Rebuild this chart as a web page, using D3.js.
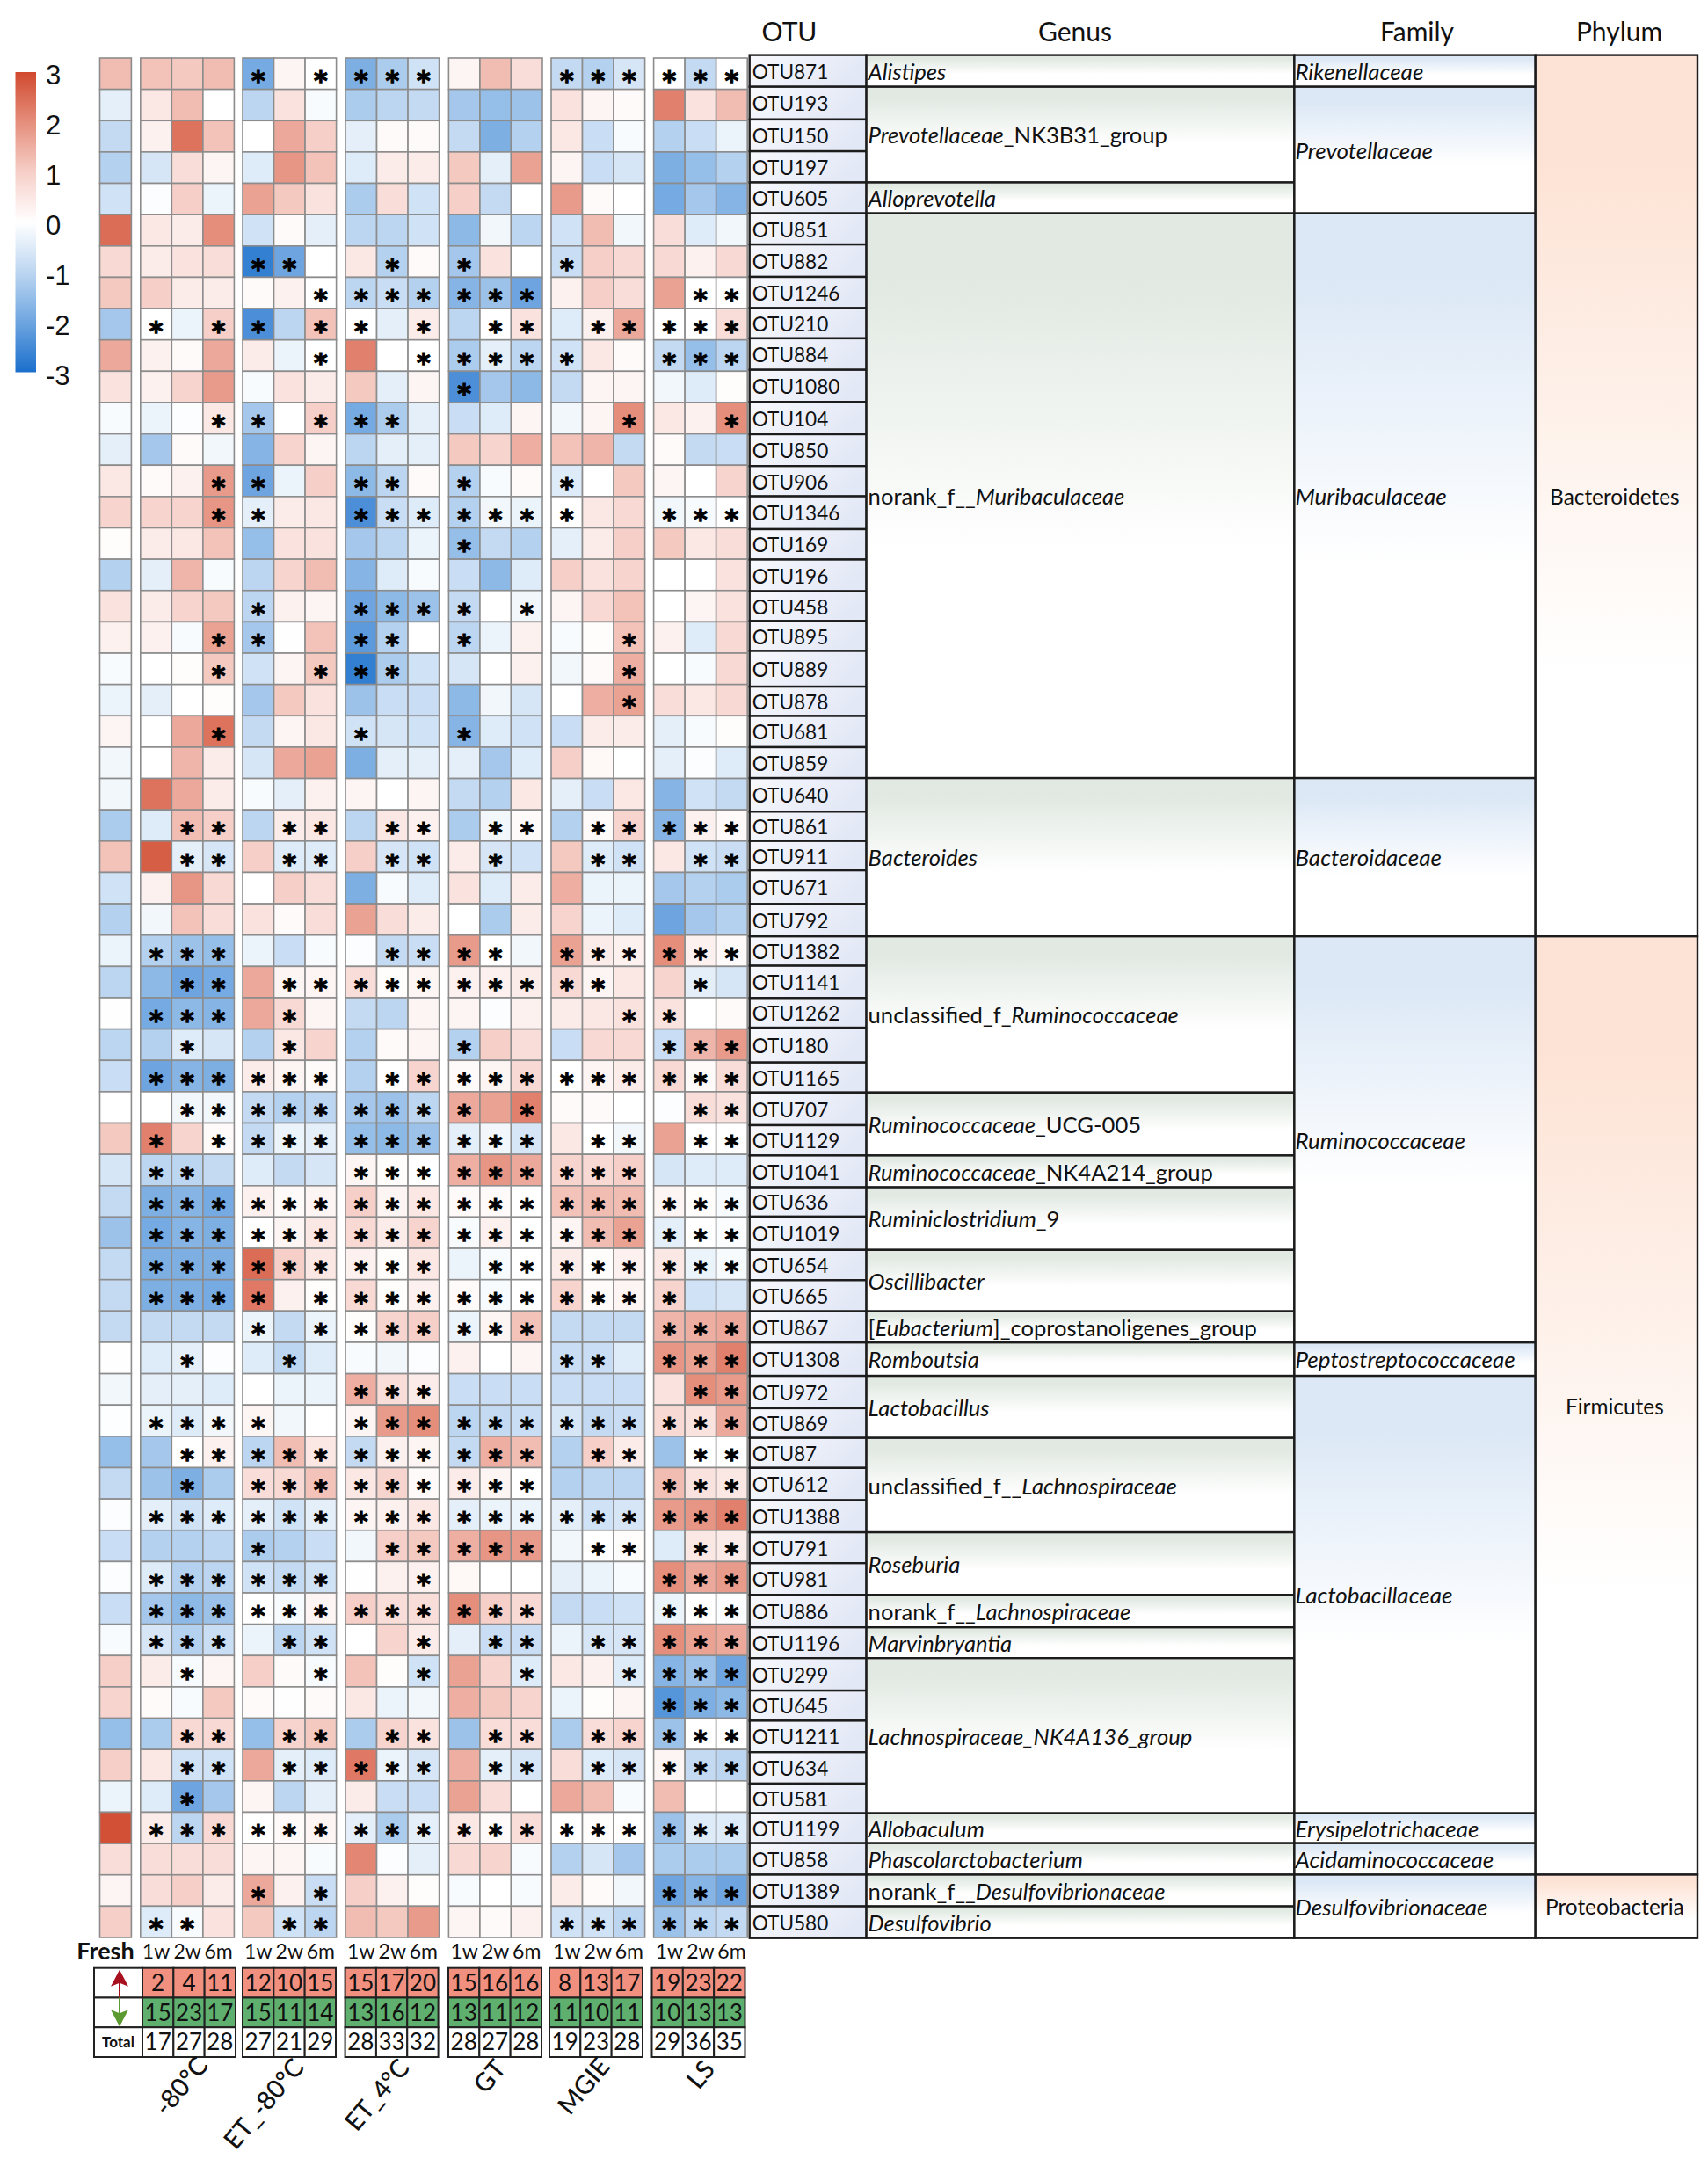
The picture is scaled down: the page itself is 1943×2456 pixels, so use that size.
<!DOCTYPE html>
<html><head><meta charset="utf-8">
<style>html,body{margin:0;padding:0;background:#fff;overflow:hidden}svg{display:block}text{font-family:Lato,"Open Sans",sans-serif;fill:#111}</style>
<script src="https://cdn.jsdelivr.net/npm/d3@7"></script></head><body><div id="c"></div>
<script>
const otus=["OTU871","OTU193","OTU150","OTU197","OTU605","OTU851","OTU882","OTU1246","OTU210","OTU884","OTU1080","OTU104","OTU850","OTU906","OTU1346","OTU169","OTU196","OTU458","OTU895","OTU889","OTU878","OTU681","OTU859","OTU640","OTU861","OTU911","OTU671","OTU792","OTU1382","OTU1141","OTU1262","OTU180","OTU1165","OTU707","OTU1129","OTU1041","OTU636","OTU1019","OTU654","OTU665","OTU867","OTU1308","OTU972","OTU869","OTU87","OTU612","OTU1388","OTU791","OTU981","OTU886","OTU1196","OTU299","OTU645","OTU1211","OTU634","OTU581","OTU1199","OTU858","OTU1389","OTU580"];
const groups=["-80°C","ET_-80°C","ET_4°C","GT","MGIE","LS"];
const times=["1w","2w","6m"];
// Each row: Fresh, then 1w/2w/6m for each of the six groups
const values=[
[1.3,1.2,1.1,1.3,-1.9,.2,0,-1.8,-1.2,-.7,.2,1.3,.7,-.9,-1.1,-.6,0,-.9,0],
[-.4,.5,1.3,0,-1,.6,-.1,-1.2,-1,-.9,-1.3,-1.5,-1.4,.6,.2,.1,2.2,.6,1.3],
[-.9,.3,2.4,1.2,0,1.6,1,-.4,.1,.1,-.9,-1.8,-1.1,.5,-.8,-.1,-1.1,-.8,-.3],
[-1.1,-.6,.7,.2,-.5,1.9,1.2,-.5,.4,.4,1.1,-.4,1.7,.2,-.8,-.6,-1.8,-1.5,-1.1],
[-.7,-.05,1,-.3,1.7,1.1,.6,-1.2,.7,-.7,1,-.9,0,1.8,.1,0,-1.9,-1.3,-1.7],
[2.5,.5,.4,2,-.7,.1,-.4,-1,-1,-.7,-1.6,-.2,-1,-.7,1.3,-.2,.7,-.5,-.2],
[.8,.4,.6,.7,-2.7,-2,0,.5,-1.1,.1,-1.3,.6,0,-.8,1,.8,.8,.3,.8],
[1.1,1,.4,.4,.1,.3,0,-1,-.8,-1.1,-1.7,-1.4,-2,.3,1,.7,1.7,0,0],
[-1.3,0,-.3,1,-2.4,-1,1.2,0,-.4,.4,-1,0,.6,-.5,.3,1.6,0,0,.7],
[1.6,.3,.1,1.6,.4,-.3,0,2.2,0,0,-1.2,-.4,-1,-.7,.5,.1,-.9,-1.5,-1],
[.6,.3,.9,1.8,-.1,.6,.4,1.1,-.4,.2,-2.4,-1.3,-1.6,-.9,.2,.2,-.2,-.5,.05],
[-.1,-.3,-.05,.5,-1.3,0,1,-1.9,-1.2,-.4,-.8,-.5,.2,-.2,.2,2,.5,.3,2],
[-.4,-1.3,.1,-.2,-1.7,.9,.2,-1,-.4,-.4,1.1,.9,1.5,1.2,1.4,-.9,.1,-.9,-.8],
[.5,.1,.3,1.8,-2,-.3,1,-1.6,-1,.1,-1.1,-.1,.1,-.5,0,1.1,.2,0,.9],
[.9,.9,.9,1.9,-.4,.4,.5,-2.4,-.8,-.5,-1.1,-.2,-.3,0,.5,.8,-.2,-.1,0],
[.05,.4,.5,1.2,-1.5,.6,.6,-1.3,-1,-.3,-1.5,-.9,-1.1,-.4,.4,1,1.1,.5,.7],
[-1.1,-.4,1.4,-.1,-1,.9,1.3,-1.7,-.5,-.1,-.8,-1.6,-.5,1,.6,.9,0,0,.6],
[.6,.4,.9,1.1,-1,.3,.2,-2,-1.6,-1.4,-.9,0,-.2,.2,.8,1.2,0,.2,.6],
[.3,.3,-.1,1.7,-1.3,-.02,1.2,-2.2,-1.1,0,-1,-.3,.3,-.1,.05,1.2,.3,-.5,.8],
[-.1,0,.05,1.1,-.7,.2,1.1,-2.7,-1.2,-.7,-.6,0,.3,-.2,.1,1.5,0,-.1,.8],
[-.3,-.4,0,.05,-1.3,1.1,.6,-1.4,-.8,-.8,-1.6,-.2,-.6,0,1.5,1.7,.7,.5,.8],
[.2,0,1.6,2.4,-.9,.2,.5,-.7,-.6,-.7,-1.7,-.5,-.7,-.8,.4,.4,-.4,-.1,.05],
[-.2,0,1.4,.4,-.6,1.6,1.7,-1.8,-.4,-.4,-.4,-1.3,-.5,1,.15,0,-.4,-.05,-.5],
[-.2,2.4,1.6,.4,-.1,-.4,.3,.2,0,.2,-.9,-1.1,.5,-.4,-.8,.5,-1.7,-.7,-.9],
[-1.2,-.5,1.3,1,-1,.4,.5,-1,.5,.3,-1.2,-.2,.1,-1.1,.1,.9,-1.7,.3,.1],
[1.2,2.7,-.4,-.6,1,-.5,-.5,1,-.6,-.7,.4,-.6,-.7,1.1,-.5,-.7,.5,-.7,-.8],
[-.7,.3,1.9,.8,0,1,.7,-1.8,-.1,-.5,.6,-.5,.4,1.5,-.3,-.3,-1.3,-1.1,-1.2],
[-1.1,-.2,1.2,.7,.6,.1,.7,1.7,.7,.4,0,-1.2,.4,.9,-.3,-.5,-2,-1.3,-1.1],
[-.3,-1.1,-1.4,-1.5,-.3,-.8,-.1,-.05,-.9,-.8,1.8,0,-.2,1.7,.4,.3,2,.3,.1],
[-1,-1.6,-2,-1.9,1.6,.2,.2,.7,.05,.2,.3,.3,.4,.8,.2,.5,.9,-.4,-.6],
[-.02,-1.9,-1.6,-1.7,1.6,.8,.2,-.9,-1,.2,.2,-.05,.3,.4,.5,.6,.6,0,.1],
[-1,-1.1,-.5,-.6,-1.1,.5,.9,-1.1,.1,.2,-1.1,1,.7,-.8,.8,.8,-.8,1.4,1.8],
[-.8,-2,-1.7,-1.8,.4,.2,.1,-1.1,0,.9,.1,.2,.8,0,.2,.4,.8,.1,.7],
[0,0,-.2,-.2,-.9,-1.1,-1,-1.3,-1.4,-1,1.6,1.7,2.2,.1,.1,0,-.05,.7,.6],
[1.1,2.2,.9,.1,-.9,-.3,-.4,-1.5,-1.6,-1.4,-.4,-.2,-.6,.5,0,-.2,1.7,0,0],
[-.6,-1,-1,-.9,-.5,-.9,-.6,.2,.05,0,1.5,1.9,1.6,.9,.8,1,-.6,-.5,-.5],
[-.9,-1.8,-1.7,-1.9,.3,.1,.2,1,.2,.5,.1,.1,0,1.2,1.3,1.3,.2,.05,-.1],
[-1.4,-1.9,-1.7,-1.8,0,.2,.5,.8,.4,.9,-.1,.3,0,.2,1.3,1.7,-.4,0,-.05],
[-.9,-1.8,-1.8,-1.8,2.5,1,.5,.3,.05,.5,-.3,-.1,0,.4,.05,.3,.5,-.3,-.1],
[-.9,-1.8,-1.8,-1.9,2.3,.3,.05,.8,.05,.3,.1,-.1,0,.9,.1,.2,.9,-.7,-.6],
[-.9,-.9,-.9,-.9,-.3,-.9,-.3,.05,.9,1,-.3,.2,1.2,-.9,-.9,-.9,1.4,1.5,1.6],
[.02,-.5,-.4,-.05,-.5,-1,-.5,-.1,-.2,-.05,.3,0,.2,-.8,-.8,-.5,1.9,1.7,2.2],
[-.2,-.4,-.4,-.5,0,-.3,-.3,1.5,.7,.4,-.8,-.8,-.8,-.8,-.8,-.8,.6,2,1.8],
[-.03,-.3,-.5,-.2,.2,-.2,0,.2,1.8,2,-1,-.9,-.8,-.6,-.9,-.8,.8,.6,1.6],
[-1.5,-1.3,0,.3,-1,1.3,.5,-.9,.3,.2,-.9,1.5,1.3,-1.1,1,.4,-1.4,0,0],
[-.9,-1.4,-1.8,-1.2,.7,.8,1.2,.5,.9,.1,.4,.2,0,-1.1,-1,-1,1.3,.6,.5],
[-.05,-.4,-.7,-.5,-.4,-.7,-.4,.2,.3,.5,-.4,-.3,-.3,-.4,-.7,-.6,1.8,1.9,2.2],
[-.8,-1.1,-1.1,-1,-1.2,-1.1,-.8,-.2,1,1.1,1.5,1.9,1.8,-.2,0,.05,-.5,.5,.4],
[-.05,-.5,-1.1,-1,-.7,-.9,-.7,-.02,.3,.3,.15,0,0,-.4,-.3,-.1,2,1.6,1.8],
[-.8,-1.3,-1.6,-1.4,0,-.1,.2,1,.7,.7,2,1,.8,-.9,-.8,-.7,-.3,0,-.05],
[-.1,-.6,-1.1,-.8,-.3,-1,-.7,0,.9,.4,-.4,-.8,-.8,-.3,-.6,-.6,2,1.7,1.6],
[1,.4,-.1,.2,1,.1,-.1,1.2,.05,-.7,1.7,.9,-.5,.5,.3,-.5,-1.7,-1.4,-2],
[.9,.1,-.1,1.1,.1,-.02,.1,.5,-.3,-.2,1.5,1.1,.9,-.3,.05,.2,-2.3,-1.8,-1.6],
[-1.5,-1.2,.8,.8,-1.5,.9,1.1,-1.2,.9,.6,-1.4,.7,.7,-1.2,.7,.9,-1.4,0,0],
[1,.5,-.7,-.7,1.6,-.4,-.5,2.3,-.3,-.6,1.5,-.4,-.6,.7,-.5,-.6,.2,-.9,-1],
[-.3,-.5,-2,-1.3,.2,-1,-.4,.4,-.8,-.8,1.7,.7,0,1.6,1.3,-.1,1.3,0,0],
[2.9,.4,-1,.8,0,.1,.2,-.4,-1.2,-.4,.5,.1,.7,0,.05,0,-1.4,-.5,-.5],
[.7,.7,.7,.7,.2,.2,-.1,2.1,-.05,-.4,.8,.9,-.1,-1.1,-.6,-1.3,-1.2,-1.2,-1.2],
[.2,.7,1,.4,1.6,.3,-.8,1,.3,.05,-.1,0,-.1,.4,.1,-.2,-2,-1.7,-2],
[1,-.5,-.1,.6,1.1,-.7,-1,1.3,1.1,1.8,.2,.1,.3,-.7,-.7,-1,-1.4,-1,-.9]];
// 1 marks a significance star; the leading character is the Fresh column
const stars=[
"0 000 101 111 000 111 111","0 000 000 000 000 000 000","0 000 000 000 000 000 000","0 000 000 000 000 000 000","0 000 000 000 000 000 000","0 000 000 000 000 000 000",
"0 000 110 010 100 100 000","0 000 001 111 111 000 011","0 101 101 101 011 011 111","0 000 001 001 111 100 111","0 000 000 000 100 000 000","0 001 101 110 000 001 001",
"0 000 000 000 000 000 000","0 001 100 110 100 100 000","0 001 100 111 111 100 111","0 000 000 000 100 000 000","0 000 000 000 000 000 000","0 000 100 111 101 000 000",
"0 001 100 110 100 001 000","0 001 001 110 000 001 000","0 000 000 000 000 001 000","0 001 000 100 100 000 000","0 000 000 000 000 000 000","0 000 000 000 000 000 000",
"0 011 011 011 011 011 111","0 011 011 011 010 011 011","0 000 000 000 000 000 000","0 000 000 000 000 000 000","0 111 000 011 110 111 111","0 011 011 111 111 110 010",
"0 111 010 000 000 001 100","0 010 010 000 100 000 111","0 111 111 011 111 111 111","0 011 111 111 101 000 011","0 101 111 111 111 011 011","0 110 000 111 111 111 000",
"0 111 111 111 111 111 111","0 111 111 111 111 111 111","0 111 111 111 011 111 111","0 111 101 111 111 111 100","0 000 101 111 111 000 111","0 010 010 000 000 110 111",
"0 000 000 111 000 000 011","0 111 100 111 111 111 111","0 011 111 111 111 011 011","0 010 111 111 111 000 111","0 111 111 111 111 111 111","0 000 100 011 111 011 011",
"0 111 111 001 000 000 111","0 111 111 111 111 000 111","0 111 011 001 011 011 111","0 010 001 001 001 001 111","0 000 000 000 000 000 111","0 011 011 011 011 011 111",
"0 011 011 111 011 011 111","0 010 000 000 000 000 000","0 111 111 111 111 111 111","0 000 000 000 000 000 000","0 000 101 000 000 000 111","0 110 011 000 000 111 111"];
// "/" toggles between upright and italic runs; each label begins upright
const genusNames=["/Alistipes","/Prevotellaceae/_NK3B31_group","/Alloprevotella","norank_f__/Muribaculaceae","/Bacteroides","unclassified_f_/Ruminococcaceae","/Ruminococcaceae/_UCG-005","/Ruminococcaceae/_NK4A214_group","/Ruminiclostridium/_9","/Oscillibacter","[/Eubacterium/]_coprostanoligenes_group","/Romboutsia","/Lactobacillus","unclassified_f__/Lachnospiraceae","/Roseburia","norank_f__/Lachnospiraceae","/Marvinbryantia","/Lachnospiraceae_NK4A136_group","/Allobaculum","/Phascolarctobacterium","norank_f__/Desulfovibrionaceae","/Desulfovibrio"];
const genusSpans=[1,3,1,18,5,5,2,1,2,2,1,1,2,3,2,1,1,5,1,1,1,1];
const familyNames=["Rikenellaceae","Prevotellaceae","Muribaculaceae","Bacteroidaceae","Ruminococcaceae","Peptostreptococcaceae","Lactobacillaceae","Erysipelotrichaceae","Acidaminococcaceae","Desulfovibrionaceae"];
const familySpans=[1,4,18,5,13,1,14,1,1,2];
const phylumNames=["Bacteroidetes","Firmicutes","Proteobacteria"];
const phylumSpans=[28,30,2];
const upCounts=[2,4,11,12,10,15,15,17,20,15,16,16,8,13,17,19,23,22];
const downCounts=[15,23,17,15,11,14,13,16,12,13,11,12,11,10,11,10,13,13];
const totalCounts=[17,27,28,27,21,29,28,33,32,28,27,28,19,23,28,29,36,35];
const legendTicks=[3,2,1,0,-1,-2,-3];
// The table's row rules are unevenly spaced in the reference
const tableRowEdges=[62.6,98.7,135.9,172.1,207.5,242.7,278.1,315,350.5,384.9,420.7,457.2,494,530.2,564.6,602,636.5,672.6,706.4,740.5,781.1,814.5,850,885.1,923.3,956.7,990.1,1028.4,1065.2,1098.6,1135.3,1169.1,1208.7,1242.8,1280,1314.4,1350.6,1384,1421.8,1456.3,1491.7,1527.2,1565.1,1601.9,1635.7,1669.8,1706.6,1743.1,1778.2,1814.3,1851.2,1886.2,1923.1,1957.4,1993.2,2029,2062.7,2096.7,2132.5,2168.6,2204.7];

const W=1943,H=2456;
const svg=d3.select("#c").append("svg").attr("width",W).attr("height",H).attr("viewBox",`0 0 ${W} ${H}`);
const defs=svg.append("defs");
const color=d3.scaleLinear().domain([-3,-2,-1,0,1,2,3]).range(["#1a6fcc","#6ea5e0","#bcd6f1","#ffffff","#f6cfc8","#e58e7c","#d0492e"]).clamp(true);

function vGrad(id,c,end){const g=defs.append("linearGradient").attr("id",id).attr("x1",0).attr("x2",0).attr("y1",0).attr("y2",1);
 g.append("stop").attr("offset",0).attr("stop-color",c);g.append("stop").attr("offset",.12).attr("stop-color",c);g.append("stop").attr("offset",end).attr("stop-color","#fff");}
vGrad("gGenus","#e1e9e2",.6);vGrad("gFamily","#dce8f6",.62);vGrad("gPhylum","#fde3d5",.7);
const go=defs.append("linearGradient").attr("id","gOtu").attr("x1",0).attr("x2",1).attr("y1",0).attr("y2",.3);
go.append("stop").attr("offset",0).attr("stop-color","#f8f9fd");go.append("stop").attr("offset",1).attr("stop-color","#e3e8f6");

// heatmap
const y=d3.scaleBand().domain(d3.range(otus.length)).range([66,2204]);
const groupLeft=d3.scaleOrdinal().domain(groups).range([159.8,276,393,510.4,627,743.6]);
const timeX=d3.scaleBand().domain(times).range([0,106.6]);
const freshX=d3.scaleBand().domain(["Fresh"]).range([113.5,149.4]);
const columns=[{x:freshX("Fresh"),w:freshX.bandwidth()}];
groups.forEach(g=>times.forEach(t=>columns.push({x:groupLeft(g)+timeX(t),w:timeX.bandwidth()})));
const cells=[];
values.forEach((row,r)=>{const st=stars[r].replace(/ /g,"");row.forEach((v,c)=>cells.push({r,c,v,s:st[c]==="1"}));});
const heat=svg.append("g");
heat.selectAll("rect").data(cells).join("rect")
 .attr("x",d=>columns[d.c].x).attr("y",d=>y(d.r)).attr("width",d=>columns[d.c].w).attr("height",y.bandwidth())
 .attr("fill",d=>color(d.v)).attr("stroke","#8c8c8c").attr("stroke-width",1.6);
svg.append("g").selectAll("text").data(cells.filter(d=>d.s)).join("text")
 .attr("x",d=>columns[d.c].x+columns[d.c].w/2).attr("y",d=>y(d.r)+y.bandwidth()/2+18)
 .attr("text-anchor","middle").style("font-family","'DejaVu Sans'").style("font-weight","700").style("font-size","30px").style("fill","#000")
 .style("stroke","#000").style("stroke-width","1.1px").text("*");

// legend
const legendY=d3.scaleLinear().domain([3,-3]).range([85,426.5]);
const lg=defs.append("linearGradient").attr("id","gLegend").attr("x1",0).attr("x2",0).attr("y1",0).attr("y2",1);
d3.range(3,-3.01,-.5).forEach(v=>lg.append("stop").attr("offset",(3-v)/6).attr("stop-color",color(v)));
svg.append("rect").attr("x",17.5).attr("y",legendY(3)-3).attr("width",23.5).attr("height",legendY(-3)-legendY(3)).attr("fill","url(#gLegend)");
svg.append("g").selectAll("text").data(legendTicks).join("text").attr("x",52).attr("y",d=>legendY(d)).attr("dy","0.36em")
 .style("font-family","'Liberation Sans'").style("font-size","31px").text(d=>d);

// taxonomy table
const ty=d3.scaleLinear().domain(d3.range(otus.length+1)).range(tableRowEdges);
const X={otu:852.7,genus:985.6,family:1472.4,phylum:1746.7,end:1931};
const table=svg.append("g");
function spans(names,s){let i=0;return names.map((n,k)=>{const o={n,a:i,b:i+s[k]};i+=s[k];return o;});}
function column(data,x0,x1,fill,size,cb){const g=table.append("g");
 g.selectAll("rect").data(data).join("rect").attr("x",x0).attr("width",x1-x0).attr("y",d=>ty(d.a)).attr("height",d=>ty(d.b)-ty(d.a))
  .attr("fill",fill).attr("stroke","#1c1c1c").attr("stroke-width",2.4);
 const t=g.selectAll("text").data(data).join("text").attr("y",d=>(ty(d.a)+ty(d.b))/2+1.5).attr("dy","0.34em").style("font-size",size+"px");
 cb(t);}
column(otus.map((n,i)=>({n,a:i,b:i+1})),X.otu,X.genus,"url(#gOtu)",22.6,t=>t.attr("x",X.otu+3).text(d=>d.n));
column(spans(genusNames,genusSpans),X.genus,X.family,"url(#gGenus)",25.6,t=>t.attr("x",X.genus+2).each(function(d){
  const el=d3.select(this);d.n.split("/").forEach((s,i)=>{if(s)el.append("tspan").style("font-style",i%2?"italic":"normal").text(s);});}));
column(spans(familyNames,familySpans),X.family,X.phylum,"url(#gFamily)",26,t=>t.attr("x",X.family+1).style("font-style","italic").text(d=>d.n));
column(spans(phylumNames,phylumSpans),X.phylum,X.end,"url(#gPhylum)",24.4,t=>t.attr("x",(X.phylum+X.end)/2-2).attr("text-anchor","middle").text(d=>d.n));

// headers
const headers=[["OTU",898],["Genus",1223],["Family",1612],["Phylum",1842]];
svg.append("g").selectAll("text").data(headers).join("text").attr("x",d=>d[1]).attr("y",36).attr("dy","0.35em").attr("text-anchor","middle").style("font-size","30px").text(d=>d[0]);

// column labels
const labelY=2220;
const lab=[{t:"Fresh",x:120,s:27,w:700}];
groups.forEach((g,i)=>times.forEach(t=>lab.push({t,x:groupLeft(g)+timeX(t)+timeX.bandwidth()/2,s:23,w:400})));
svg.append("g").selectAll("text").data(lab).join("text").attr("x",d=>d.x).attr("y",labelY).attr("dy","0.35em").attr("text-anchor","middle").style("font-size",d=>d.s+"px").style("font-weight",d=>d.w).text(d=>d.t);

// summary table
const sumLeft=d3.scaleOrdinal().domain(groups).range([162,276,392.6,510,625,741.5]);
const sumX=d3.scaleBand().domain(times).range([0,106]);
const sumY=d3.scaleBand().domain(["up","down","total"]).range([2238.7,2340]);
const sumCols=[];groups.forEach(g=>times.forEach(t=>sumCols.push(sumLeft(g)+sumX(t))));
const rowsS=[["up",upCounts,"#f1907f"],["down",downCounts,"#5fb06f"],["total",totalCounts,"#fff"]];
const sg=svg.append("g");
rowsS.forEach(([k,arr,fill])=>{
 const g=sg.append("g");
 g.selectAll("rect").data(arr).join("rect").attr("x",(d,i)=>sumCols[i]).attr("y",sumY(k)).attr("width",sumX.bandwidth()).attr("height",sumY.bandwidth()).attr("fill",fill).attr("stroke","#222").attr("stroke-width",2);
 g.selectAll("text").data(arr).join("text").attr("x",(d,i)=>sumCols[i]+sumX.bandwidth()/2).attr("y",sumY(k)+sumY.bandwidth()/2).attr("dy","0.36em").attr("text-anchor","middle").style("font-size","26px").text(d=>d);
 sg.append("rect").attr("x",107).attr("y",sumY(k)).attr("width",55).attr("height",sumY.bandwidth()).attr("fill","#fff").attr("stroke","#222").attr("stroke-width",2);
});
sg.append("text").attr("x",134.5).attr("y",sumY("total")+sumY.bandwidth()/2).attr("dy","0.35em").attr("text-anchor","middle").style("font-size","17px").style("font-weight",700).text("Total");
const ax=136,uT=sumY("up"),dB=sumY("total");
sg.append("line").attr("x1",ax).attr("x2",ax).attr("y1",uT+10).attr("y2",sumY("down")).attr("stroke","#a81020").attr("stroke-width",2);
sg.append("path").attr("d",`M${ax},${uT+2}l-10,19l10,-4l10,4z`).attr("fill","#a81020");
sg.append("line").attr("x1",ax).attr("x2",ax).attr("y1",sumY("down")).attr("y2",dB-8).attr("stroke","#5a9a30").attr("stroke-width",2);
sg.append("path").attr("d",`M${ax},${dB-1}l-10,-19l10,4l10,-4z`).attr("fill","#5a9a30");

// rotated group labels
const groupLabelPos=d3.scaleOrdinal().domain(groups).range([[206,2373],[300,2393],[429,2383],[557,2362],[664,2373],[797,2360]]);
svg.append("g").selectAll("text").data(groups).join("text").attr("text-anchor","middle").attr("dy","0.35em")
 .attr("transform",d=>{const p=groupLabelPos(d);return `translate(${p[0]},${p[1]}) rotate(-50)`;}).style("font-size","29px").style("font-weight",500).text(d=>d);
</script></body></html>
